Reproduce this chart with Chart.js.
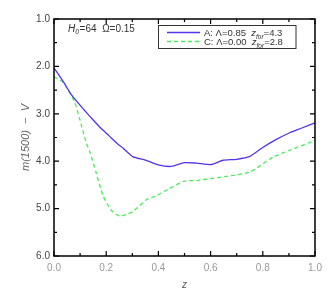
<!DOCTYPE html>
<html><head><meta charset="utf-8">
<script src="https://cdn.jsdelivr.net/npm/chart.js@4/dist/chart.umd.min.js"></script>
<style>html,body{margin:0;padding:0;background:#fff}#wrap{width:332px;height:291px}</style>
</head><body><div id="wrap"><canvas id="c" width="332" height="291"></canvas></div>
<script>
const zA = [0, 0.04, 0.067, 0.111, 0.14, 0.175, 0.21, 0.245, 0.264, 0.303, 0.347, 0.40, 0.45, 0.50, 0.545, 0.603, 0.648, 0.70, 0.75, 0.80, 0.852, 0.903, 0.95, 1.0];
const vA = [2.03, 2.36, 2.60, 2.89, 3.07, 3.28, 3.46, 3.64, 3.72, 3.91, 3.97, 4.08, 4.11, 4.03, 4.04, 4.07, 3.98, 3.96, 3.90, 3.71, 3.54, 3.40, 3.30, 3.19];
const zC = [0, 0.034, 0.054, 0.079, 0.098, 0.124, 0.137, 0.162, 0.188, 0.22, 0.252, 0.28, 0.303, 0.355, 0.392, 0.437, 0.50, 0.545, 0.609, 0.66, 0.75, 0.84, 0.903, 1.0];
const vC = [2.22, 2.33, 2.50, 2.75, 3.10, 3.62, 3.80, 4.25, 4.73, 5.04, 5.16, 5.12, 5.06, 4.81, 4.73, 4.59, 4.42, 4.41, 4.36, 4.32, 4.23, 3.91, 3.77, 3.56];
const xTicks = [0.0, 0.2, 0.4, 0.6, 0.8, 1.0];
const yTicks = [1.0, 2.0, 3.0, 4.0, 5.0, 6.0];
const legendA = ["A: Λ=0.85  ", "z", "for", "=4.3"];
const legendC = ["C: Λ=0.00  ", "z", "for", "=2.8"];
const colA = '#5533ee', colC = '#44ee55';

const FONT = '"Liberation Sans", Arial, sans-serif';

function pts(xs, ys){ return xs.map((x,i)=>({x:x, y:ys[i]})); }

const framePlugin = {
  id:'frame',
  afterDraw(chart){
    const ctx = chart.ctx, a = chart.chartArea;
    const xs = chart.scales.x, ys = chart.scales.y;
    ctx.save();
    ctx.strokeStyle = '#000'; ctx.lineWidth = 1.5;
    ctx.strokeRect(a.left, a.top, a.right-a.left, a.bottom-a.top);
    ctx.lineWidth = 1.2;
    ctx.beginPath();
    for (let v=0; v<=1.0001; v+=0.1){
      const px = xs.getPixelForValue(v);
      const major = Math.round(v*10)%2===0;
      const L = major?5:3;
      ctx.moveTo(px, a.bottom); ctx.lineTo(px, a.bottom-L);
      ctx.moveTo(px, a.top); ctx.lineTo(px, a.top+L);
    }
    for (let v=1; v<=6.0001; v+=0.5){
      const py = ys.getPixelForValue(v);
      const major = Math.abs(v-Math.round(v))<0.01;
      const L = major?5:3;
      ctx.moveTo(a.left, py); ctx.lineTo(a.left+L, py);
      ctx.moveTo(a.right, py); ctx.lineTo(a.right-L, py);
    }
    ctx.stroke();

    // annotation H0=64 Ω=0.15
    ctx.fillStyle = '#333';
    ctx.textBaseline = 'alphabetic';
    let x = 68, y = 31.5;
    ctx.font = 'italic 10px ' + FONT; ctx.fillText('H', x, y); x += ctx.measureText('H').width;
    ctx.font = 'italic 7px ' + FONT; ctx.fillText('0', x, y+2); x += ctx.measureText('0').width + 0.5;
    ctx.font = '10px ' + FONT; ctx.fillText('=64  Ω=0.15', x, y);

    // legend box
    ctx.strokeStyle = '#333'; ctx.lineWidth = 1;
    ctx.strokeRect(158.5, 25.5, 137.5, 23);
    function row(parts, yy, col, dash){
      ctx.save();
      ctx.strokeStyle = col; ctx.lineWidth = 1.3; ctx.setLineDash(dash);
      ctx.beginPath(); ctx.moveTo(167, yy); ctx.lineTo(200, yy); ctx.stroke();
      ctx.restore();
      ctx.fillStyle = '#333';
      let xx = 204; const by = yy + 3.5;
      ctx.font = '9.5px ' + FONT; ctx.fillText(parts[0], xx, by); xx += ctx.measureText(parts[0]).width;
      ctx.font = 'italic 9.5px ' + FONT; ctx.fillText(parts[1], xx, by); xx += ctx.measureText(parts[1]).width;
      ctx.font = 'italic 6.5px ' + FONT; ctx.fillText(parts[2], xx, by+2.5); xx += ctx.measureText(parts[2]).width;
      ctx.font = '9.5px ' + FONT; ctx.fillText(parts[3], xx, by);
    }
    row(legendA, 32.5, colA, []);
    row(legendC, 41.5, colC, [4,3]);
    ctx.restore();
  }
};

new Chart(document.getElementById('c'), {
  type:'line',
  data:{ datasets:[
    {label:'A', data:pts(zA,vA), borderColor:colA, borderWidth:1.3, pointRadius:0, tension:0.2, fill:false},
    {label:'C', data:pts(zC,vC), borderColor:colC, borderWidth:1.3, borderDash:[4,3], pointRadius:0, tension:0.2, fill:false}
  ]},
  options:{
    responsive:false, animation:false,
    layout:{padding:{top:19, right:17, left:19, bottom:0}},
    plugins:{legend:{display:false}, tooltip:{enabled:false}},
    scales:{
      x:{type:'linear', min:0, max:1,
        afterBuildTicks(s){ s.ticks = xTicks.map(v=>({value:v})); },
        afterFit(s){ s.height = 35; },
        grid:{display:false, drawTicks:false}, border:{display:false},
        ticks:{color:'#999', font:{family:FONT, size:10}, padding:6, maxRotation:0, callback:v=>v.toFixed(1)},
        title:{display:true, text:'z', color:'#555', font:{family:FONT, size:10, style:'italic'}, padding:{top:0,bottom:0}}
      },
      y:{type:'linear', min:1, max:6, reverse:true,
        afterBuildTicks(s){ s.ticks = yTicks.map(v=>({value:v})); },
        afterFit(s){ s.width = 35; },
        grid:{display:false, drawTicks:false}, border:{display:false},
        ticks:{color:'#444', font:{family:FONT, size:10}, padding:4, callback:v=>v.toFixed(1)},
        title:{display:true, text:'m(1500)  −  V', color:'#666', font:{family:FONT, size:11, style:'italic'}, padding:{top:0,bottom:0}}
      }
    }
  },
  plugins:[framePlugin]
});
</script></body></html>
